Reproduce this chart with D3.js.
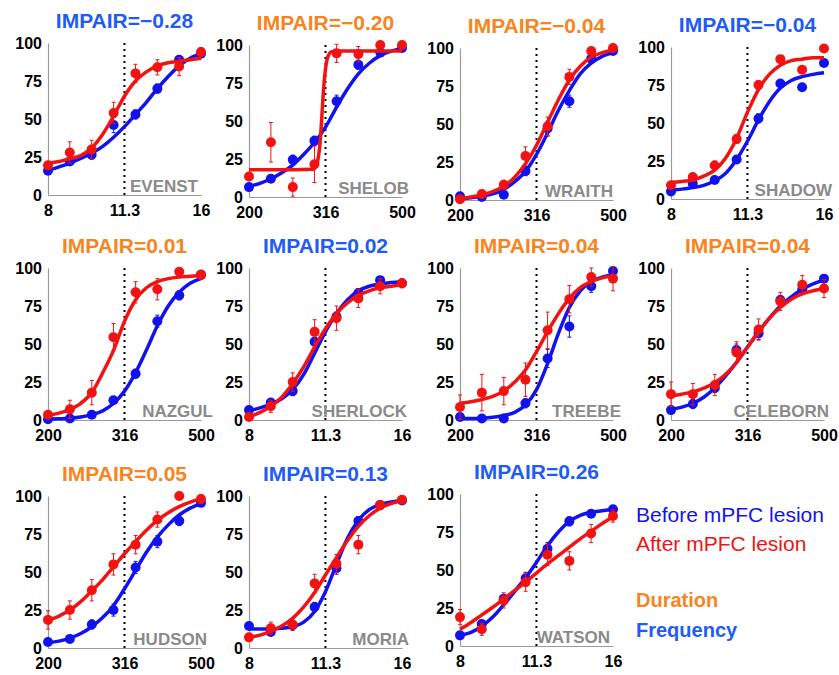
<!DOCTYPE html>
<html>
<head>
<meta charset="utf-8">
<script src="https://cdn.jsdelivr.net/npm/d3@7"></script>
<style>
body { margin: 0; background: #fff; }
text { font-family: "Liberation Sans", Arial, sans-serif; }
</style>
</head>
<body>
<svg id="chart" width="839" height="675"></svg>
<script>
// psychometric curves per rat, before / after mPFC lesion

var names = ["EVENST", "SHELOB", "WRAITH", "SHADOW", "NAZGUL", "SHERLOCK", "TREEBE", "CELEBORN", "HUDSON", "MORIA", "WATSON"];
var impair = [-0.28, -0.20, -0.04, -0.04, 0.01, 0.02, 0.04, 0.04, 0.05, 0.13, 0.26];
var modality = ["freq", "dur", "dur", "freq", "dur", "freq", "dur", "dur", "dur", "freq", "freq"];

// stimulus levels (Hz and ms), log spaced
var freqLevels = [8, 8.83, 9.75, 10.77, 11.89, 13.13, 14.49, 16];
var durLevels = [200, 228, 260, 296, 338, 385, 439, 500];
var freqTicks = [8, 11.31, 16];
var freqTickLabels = ["8", "11.3", "16"];
var durTicks = [200, 316.2, 500];
var durTickLabels = ["200", "316", "500"];

// x positions where the fitted curves were read
var freqFitX = [8, 8.41, 8.83, 9.28, 9.75, 10.25, 10.77, 11.31, 11.89, 12.49, 13.13, 13.79, 14.49, 15.23, 16];
var durFitX = [200, 213.5, 228, 243.4, 259.9, 277.5, 296.3, 316.3, 337.7, 360.6, 385, 411, 438.8, 468.5, 500];

// % responses, before lesion (blue)
var beforeMean = [
	[16, 22, 26.5, 46, 53, 70, 89, 93],
	[6.5, 12, 24.5, 37, 63, 87, 95, 98],
	[2.5, 2, 3.5, 19, 47, 65, 93, 98],
	[5, 10, 12.5, 26, 53, 76, 73.5, 89.5],
	[0.5, 1, 3.5, 13, 30.5, 65, 82, 95.5],
	[6.5, 11.5, 19, 51.5, 68, 83.5, 92, 90],
	[2, 1, 1, 11, 40.5, 61.5, 88, 98],
	[6.5, 10.5, 21, 46, 57, 79, 86, 93],
	[4, 6, 15.5, 25, 53, 70, 83.5, 95.5],
	[14.5, 10.5, 15, 27, 52.5, 83.5, 94, 97],
	[7, 14.5, 31, 44.5, 64, 82, 87, 90]
];
var beforeErr = [
	[2, 2, 3, 5, 3, 3, 2, 2],
	[2, 2, 3, 3, 4, 3, 2, 2],
	[1, 1, 2, 3, 5, 4, 2, 1],
	[1, 1, 2, 2, 3, 2, 2, 2],
	[1, 1, 1, 2, 3, 4, 3, 2],
	[2, 2, 3, 3, 3, 3, 2, 2],
	[1, 1, 1, 3, 6, 7, 4, 2],
	[2, 3, 3, 4, 4, 3, 2, 2],
	[2, 2, 3, 4, 4, 4, 3, 2],
	[2, 2, 2, 3, 4, 3, 2, 2],
	[2, 2, 3, 4, 4, 3, 2, 2]
];
// % responses, after lesion (red)
var afterMean = [
	[19.5, 28, 30, 54, 80, 84, 84.5, 94],
	[13.5, 36, 6.5, 21.5, 94.5, 94, 100, 100],
	[0.5, 4, 10, 29, 48.5, 81, 98, 100],
	[9, 14.5, 22, 39.5, 75, 92, 85, 99],
	[3.5, 7, 18, 54.5, 84, 86, 97.5, 95.5],
	[2, 9, 25, 58, 67, 80, 88, 90],
	[8.5, 18, 19, 26.5, 59, 79.5, 94, 93],
	[17, 17, 23, 44.5, 59.5, 78, 89, 86.5],
	[18.5, 25, 38, 55, 68, 84.5, 100, 98],
	[7, 13, 15.5, 42.5, 55.5, 68, 94, 97.5],
	[19, 11, 30, 42, 60, 56, 74, 85.5]
];
var afterErr = [
	[2, 7, 6, 7, 6, 5, 6, 3],
	[2, 13, 6, 12, 6, 5, 2, 2],
	[1, 2, 3, 6, 6, 5, 2, 1],
	[2, 2, 3, 3, 3, 2, 2, 2],
	[2, 6, 8, 9, 7, 7, 2, 3],
	[2, 4, 6, 8, 8, 6, 5, 3],
	[8, 12, 9, 11, 12, 9, 6, 8],
	[8, 7, 7, 7, 7, 6, 6, 6],
	[6, 6, 7, 7, 6, 5, 2, 3],
	[2, 4, 4, 6, 6, 6, 3, 2],
	[5, 4, 5, 6, 7, 6, 6, 4]
];

// fitted curves, read at freqFitX / durFitX
var beforeFit = [
	[16, 18.5, 21, 24, 27.5, 32, 38, 45, 53, 61, 70, 78, 85, 90, 93],
	[7, 9, 12, 16, 21, 28, 36, 46, 59, 71, 81, 88, 93, 96, 97.5],
	[1, 1.5, 2.5, 4, 7, 12, 19, 30, 44, 59, 72, 83, 90, 94.5, 97],
	[6, 6.5, 7.5, 9, 12, 17, 26, 38, 52, 64, 73, 78, 80.5, 82, 83],
	[0.5, 0.8, 1.2, 2, 3.5, 6, 11, 19, 31, 46, 62, 75, 84, 90, 93],
	[6, 8, 10.5, 14, 20, 30, 44, 58, 70, 79, 85, 88, 89.5, 90.5, 91],
	[1, 1, 1.2, 1.8, 3, 5, 10, 20, 37, 57, 74, 85, 91, 94, 95.5],
	[7, 8.5, 11, 15, 21, 29, 38, 48, 58, 67, 75, 81, 86, 89.5, 92],
	[3.5, 4.5, 6.5, 9.5, 14, 20, 28, 39, 51, 63, 73, 81, 87.5, 92, 95],
	[12.5, 12.5, 12.5, 13, 14, 17, 24, 37, 55, 72, 84, 91, 94.5, 96, 97],
	[7, 9, 13, 19, 27, 36, 45, 55, 66, 75, 82, 86, 88, 89, 90]
];
var afterFit = [
	[21, 22, 24, 26, 31, 40, 52, 65, 75, 81, 85, 87, 88, 89, 90],
	null,
	[1, 2, 3.5, 5.5, 9, 15, 24, 36, 51, 66, 79, 88, 94, 97, 98.5],
	[11, 11.5, 12.5, 15, 19, 27, 40, 57, 72, 82, 88, 91, 92, 93, 93],
	[3, 4.5, 7, 11, 18, 31, 46, 65, 79, 87, 91, 93, 94, 94.5, 95],
	[2, 5, 9, 15, 24, 35, 48, 60, 70, 77, 82, 85, 87, 88, 89],
	[11, 12, 13.5, 15.5, 19, 25, 33, 45, 58, 70, 80, 87, 91, 93.5, 95],
	[16, 17, 18.5, 21, 24.5, 30, 38, 48, 58, 67, 74, 79.5, 83, 85, 86.5],
	[18, 21, 25, 30.5, 37.5, 45, 53.5, 62, 70, 77.5, 84, 89, 93, 96, 98],
	[7, 8.5, 11, 14.5, 19.5, 27, 36.5, 48, 59.5, 70.5, 80, 87, 92, 95, 97],
	[11, 15.5, 20.5, 25.5, 31, 36.5, 42, 48, 54, 59.5, 65, 70.5, 75.5, 80.5, 85]
];
// SHELOB after-lesion fit is a near step, read on a finer grid
var shelobFitX = [200, 260, 293.6, 298, 301.5, 305.4, 308.9, 312, 316.2, 320.5, 327.4, 337.7, 385, 500];
var shelobFitY = [18, 18, 18.3, 19.5, 23, 33, 50, 68, 84, 92, 95.5, 96, 96, 96];

var cfg = {
	plotW: 153,
	plotH: 152,
	dotR: 5,
	blue: "#1212ee",
	red: "#f31212",
	titleBlue: "#1f5cf5",
	orange: "#f7841e",
	gray: "#8a8a8a"
};
var panelX = [48, 249, 460, 671, 48, 249, 460, 671, 48, 249, 460];
var panelY = [43, 45, 48, 47, 268, 268, 268, 268, 496, 496, 494];
// right edge of the rat name, from the panel's left axis
var nameEnd = [150, 160, 153, 161, 165, 158, 161, 158, 159, 160, 150];

var svg = d3.select("#chart");

for (var i = 0; i < names.length; i++) {
	drawPanel(i);
}

function drawPanel(i) {
	var isFreq = modality[i] === "freq";
	var levels = isFreq ? freqLevels : durLevels;
	var fitX = isFreq ? freqFitX : durFitX;
	var ticks = isFreq ? freqTicks : durTicks;
	var tickLabels = isFreq ? freqTickLabels : durTickLabels;

	var g = svg.append("g")
	.attr("transform", "translate(" + panelX[i] + "," + panelY[i] + ")");

	var x = d3.scaleLog()
	.domain([ticks[0], ticks[2]])
	.range([0, cfg.plotW]);

	var y = d3.scaleLinear()
	.domain([0, 100])
	.range([cfg.plotH, 0]);

	// axes, no tick marks
	var yAxis = g.append("g")
	.call(d3.axisLeft(y).tickValues([0, 25, 50, 75, 100]).tickSize(0).tickPadding(6));

	var xAxis = g.append("g")
	.attr("transform", "translate(0," + cfg.plotH + ")")
	.call(d3.axisBottom(x).tickValues(ticks).tickSize(0).tickPadding(10)
		.tickFormat(function(d, j) { return tickLabels[j]; }));

	[yAxis, xAxis].forEach(function(a) {
		a.select(".domain").attr("stroke", "#9a9a9a").attr("stroke-width", 1.2);
		a.selectAll("text")
		.attr("fill", "#000")
		.style("font-size", "16px")
		.style("font-weight", "bold")
		.style("font-family", "'Liberation Sans', Arial, sans-serif");
	});

	// criterion line at the geometric mean
	g.append("line")
	.attr("x1", x(ticks[1])).attr("x2", x(ticks[1]))
	.attr("y1", y(0)).attr("y2", y(100))
	.attr("stroke", "#000")
	.attr("stroke-width", 2)
	.attr("stroke-dasharray", "2,4");

	// panel title
	g.append("text")
	.attr("x", cfg.plotW / 2)
	.attr("y", -15)
	.attr("text-anchor", "middle")
	.attr("fill", isFreq ? cfg.titleBlue : cfg.orange)
	.style("font-size", "21px")
	.style("font-weight", "bold")
	.text("IMPAIR=" + d3.format(".2f")(impair[i]));

	// rat name
	g.append("text")
	.attr("x", nameEnd[i])
	.attr("y", cfg.plotH - 3)
	.attr("text-anchor", "end")
	.attr("fill", cfg.gray)
	.style("font-size", "17px")
	.style("font-weight", "bold")
	.text(names[i]);

	var line = d3.line()
	.x(function(d) { return x(d[0]); })
	.y(function(d) { return y(d[1]); })
	.curve(d3.curveMonotoneX);

	var series = [
		{ color: cfg.blue, mean: beforeMean[i], err: beforeErr[i], fit: fitX.map(function(v, k) { return [v, beforeFit[i][k]]; }) },
		{ color: cfg.red, mean: afterMean[i], err: afterErr[i], fit: null }
	];
	if (afterFit[i]) {
		series[1].fit = fitX.map(function(v, k) { return [v, afterFit[i][k]]; });
	} else {
		series[1].fit = shelobFitX.map(function(v, k) { return [v, shelobFitY[k]]; });
	}

	series.forEach(function(s) {
		var pts = levels.map(function(v, k) { return { x: v, m: s.mean[k], e: s.err[k] }; });

		g.append("path")
		.datum(s.fit)
		.attr("d", line)
		.attr("fill", "none")
		.attr("stroke", s.color)
		.attr("stroke-width", 3.5);

		var eb = g.append("g").selectAll("g")
		.data(pts)
		.enter().append("g")
		.attr("stroke", s.color)
		.attr("stroke-width", 1);
		eb.append("line")
		.attr("x1", function(d) { return x(d.x); })
		.attr("x2", function(d) { return x(d.x); })
		.attr("y1", function(d) { return y(d.m - d.e); })
		.attr("y2", function(d) { return y(d.m + d.e); });
		eb.append("line")
		.attr("x1", function(d) { return x(d.x) - 2; })
		.attr("x2", function(d) { return x(d.x) + 2; })
		.attr("y1", function(d) { return y(d.m + d.e); })
		.attr("y2", function(d) { return y(d.m + d.e); });
		eb.append("line")
		.attr("x1", function(d) { return x(d.x) - 2; })
		.attr("x2", function(d) { return x(d.x) + 2; })
		.attr("y1", function(d) { return y(d.m - d.e); })
		.attr("y2", function(d) { return y(d.m - d.e); });

		g.append("g").selectAll("circle")
		.data(pts)
		.enter().append("circle")
		.attr("cx", function(d) { return x(d.x); })
		.attr("cy", function(d) { return y(d.m); })
		.attr("r", cfg.dotR)
		.attr("fill", s.color);
	});
}

// legend
var legend = [
	{ label: "Before mPFC lesion", color: cfg.blue, y: 521.5, weight: "normal", size: 21 },
	{ label: "After mPFC lesion", color: cfg.red, y: 550.5, weight: "normal", size: 21 },
	{ label: "Duration", color: cfg.orange, y: 606.5, weight: "bold", size: 20 },
	{ label: "Frequency", color: cfg.titleBlue, y: 636.5, weight: "bold", size: 20 }
];
svg.selectAll("text.legend")
.data(legend)
.enter().append("text")
.attr("class", "legend")
.attr("x", 636)
.attr("y", function(d) { return d.y; })
.attr("fill", function(d) { return d.color; })
.style("font-size", function(d) { return d.size + "px"; })
.style("font-weight", function(d) { return d.weight; })
.text(function(d) { return d.label; });
</script>
</body>
</html>
